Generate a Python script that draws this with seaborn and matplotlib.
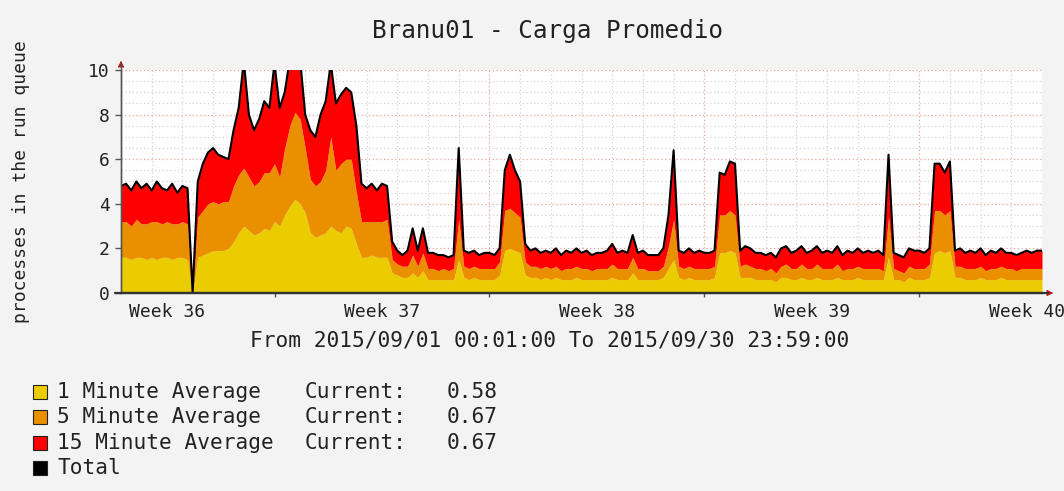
import numpy as np
import matplotlib
matplotlib.use("Agg")
import matplotlib.pyplot as plt
from matplotlib.patches import Rectangle
from matplotlib.lines import Line2D
import seaborn as sns

# Carga promedio - amostras a cada 4 horas (6 por dia), 2015/09/01 .. 2015/09/30
SAMPLE_HOURS = 4

avg_1min = [
    1.6, 1.6, 1.5, 1.6, 1.6, 1.5,
    1.6, 1.5, 1.6, 1.6, 1.5, 1.6,
    1.6, 1.5, 0.0, 1.6, 1.7, 1.8,
    1.9, 1.9, 1.9, 2.0, 2.3, 2.7,
    3.0, 2.8, 2.6, 2.7, 2.9, 2.8,
    3.2, 3.0, 3.5, 3.9, 4.2, 4.0,
    3.6, 2.7, 2.5, 2.6, 2.7, 3.0,
    2.8, 2.7, 3.0, 2.9, 2.2, 1.6,
    1.6, 1.7, 1.6, 1.6, 1.6, 0.9,
    0.8, 0.7, 0.7, 0.9, 0.7, 1.0,
    0.6, 0.6, 0.6, 0.6, 0.6, 0.6,
    1.5, 0.7, 0.6, 0.7, 0.6, 0.6,
    0.6, 0.6, 0.8, 1.9, 2.0, 1.9,
    1.8, 0.8, 0.7, 0.7, 0.6, 0.7,
    0.6, 0.7, 0.6, 0.6, 0.6, 0.7,
    0.6, 0.6, 0.6, 0.6, 0.6, 0.6,
    0.7, 0.6, 0.6, 0.6, 0.9, 0.6,
    0.6, 0.6, 0.6, 0.6, 0.7, 1.1,
    1.5, 0.7, 0.6, 0.7, 0.6, 0.6,
    0.6, 0.6, 0.7, 1.8, 1.8, 1.9,
    1.8, 0.7, 0.7, 0.7, 0.6, 0.6,
    0.6, 0.6, 0.5, 0.7, 0.7, 0.6,
    0.6, 0.7, 0.6, 0.6, 0.7, 0.6,
    0.6, 0.6, 0.7, 0.6, 0.6, 0.6,
    0.7, 0.6, 0.6, 0.6, 0.6, 0.6,
    1.6, 0.6, 0.6, 0.5, 0.7, 0.6,
    0.6, 0.6, 0.7, 1.8, 1.9, 1.8,
    1.9, 0.7, 0.7, 0.6, 0.6, 0.6,
    0.7, 0.6, 0.6, 0.6, 0.7, 0.6,
    0.6, 0.6, 0.6, 0.6, 0.6, 0.6, 0.6,
]

avg_5min = [
    1.6, 1.6, 1.5, 1.7, 1.5, 1.6,
    1.6, 1.7, 1.5, 1.6, 1.6, 1.5,
    1.6, 1.6, 0.0, 1.8, 2.0, 2.2,
    2.2, 2.1, 2.2, 2.1, 2.5, 2.6,
    2.6, 2.4, 2.2, 2.3, 2.5, 2.6,
    2.6, 2.2, 3.0, 3.6, 3.9, 3.8,
    2.9, 2.4, 2.3, 2.4, 2.8, 4.0,
    2.7, 3.1, 3.0, 3.1, 2.3, 1.6,
    1.6, 1.5, 1.6, 1.6, 1.7, 0.6,
    0.5, 0.5, 0.5, 0.8, 0.5, 0.8,
    0.5, 0.5, 0.4, 0.5, 0.4, 0.5,
    1.8, 0.5, 0.5, 0.5, 0.5, 0.5,
    0.5, 0.5, 0.6, 1.8, 1.8, 1.7,
    1.6, 0.6, 0.5, 0.5, 0.5, 0.5,
    0.5, 0.5, 0.4, 0.5, 0.5, 0.5,
    0.5, 0.5, 0.4, 0.5, 0.5, 0.5,
    0.6, 0.5, 0.5, 0.5, 0.7, 0.5,
    0.5, 0.4, 0.4, 0.4, 0.5, 1.0,
    1.8, 0.5, 0.5, 0.5, 0.5, 0.5,
    0.5, 0.5, 0.5, 1.7, 1.7, 1.8,
    1.7, 0.5, 0.6, 0.5, 0.5, 0.5,
    0.4, 0.5, 0.4, 0.5, 0.6, 0.5,
    0.5, 0.6, 0.5, 0.5, 0.6, 0.5,
    0.5, 0.5, 0.6, 0.4, 0.5, 0.5,
    0.5, 0.5, 0.5, 0.5, 0.5, 0.4,
    1.8, 0.5, 0.4, 0.4, 0.5, 0.5,
    0.5, 0.5, 0.6, 1.9, 1.8, 1.7,
    1.8, 0.5, 0.5, 0.5, 0.5, 0.5,
    0.5, 0.4, 0.5, 0.5, 0.5, 0.5,
    0.5, 0.4, 0.5, 0.5, 0.5, 0.5, 0.5,
]

avg_15min = [
    1.6, 1.7, 1.6, 1.7, 1.6, 1.8,
    1.4, 1.8, 1.6, 1.4, 1.8, 1.4,
    1.6, 1.6, 0.0, 1.6, 2.1, 2.3,
    2.4, 2.2, 2.0, 1.9, 2.5, 3.0,
    4.8, 2.8, 2.5, 2.8, 3.2, 2.9,
    4.5, 3.1, 2.5, 3.0, 2.4, 2.7,
    1.5, 2.2, 2.2, 3.0, 3.1, 3.3,
    3.0, 3.1, 3.2, 3.0, 3.0, 1.7,
    1.5, 1.7, 1.4, 1.7, 1.5, 0.8,
    0.6, 0.5, 0.7, 1.2, 0.7, 1.1,
    0.7, 0.7, 0.7, 0.6, 0.6, 0.6,
    3.2, 0.7, 0.7, 0.7, 0.6, 0.7,
    0.7, 0.6, 0.6, 1.8, 2.4, 1.9,
    1.6, 0.8, 0.7, 0.8, 0.7, 0.7,
    0.7, 0.8, 0.7, 0.8, 0.7, 0.8,
    0.7, 0.8, 0.7, 0.7, 0.7, 0.8,
    0.9, 0.7, 0.8, 0.7, 1.0, 0.7,
    0.8, 0.7, 0.7, 0.7, 0.8, 1.4,
    3.1, 0.7, 0.7, 0.8, 0.7, 0.8,
    0.7, 0.7, 0.7, 1.9, 1.8, 2.2,
    2.3, 0.7, 0.8, 0.8, 0.7, 0.7,
    0.7, 0.7, 0.7, 0.8, 0.8, 0.7,
    0.8, 0.8, 0.7, 0.8, 0.8, 0.7,
    0.8, 0.7, 0.8, 0.7, 0.8, 0.7,
    0.8, 0.7, 0.8, 0.7, 0.8, 0.7,
    2.8, 0.7, 0.7, 0.7, 0.8, 0.8,
    0.8, 0.7, 0.7, 2.1, 2.1, 1.9,
    2.2, 0.7, 0.8, 0.7, 0.8, 0.7,
    0.8, 0.7, 0.8, 0.7, 0.8, 0.7,
    0.7, 0.7, 0.7, 0.8, 0.7, 0.8, 0.8,
]

series_names = ["1 Minute Average", "5 Minute Average", "15 Minute Average"]
series_colors = ["#EACC00", "#EA8F00", "#FF0000"]
current_values = ["0.58", "0.67", "0.67"]

week_labels = ["Week 36", "Week 37", "Week 38", "Week 39", "Week 40"]
week_label_days = [1.5, 8.5, 15.5, 22.5, 29.5]
week_start_days = [5, 12, 19, 26]

title = "Branu01 - Carga Promedio"
ylabel = "processes in the run queue"
period = "From 2015/09/01 00:01:00 To 2015/09/30 23:59:00"

sns.set_theme(style="white")
plt.rcParams["font.family"] = ["DejaVu Sans Mono"]

W, H = 1064, 491
fig = plt.figure(figsize=(W / 100, H / 100), dpi=100, facecolor="#F3F3F3")
ax = fig.add_axes([121 / W, 1 - 293 / H, 921 / W, 223 / H])
ax.set_facecolor("white")

days = np.arange(len(avg_1min)) * SAMPLE_HOURS / 24.0
total = np.array(avg_1min) + np.array(avg_5min) + np.array(avg_15min)

# grade
for d in range(1, 30):
    if d in week_start_days:
        ax.axvline(d, color="#F0A0A0", lw=0.9, ls=(0, (1, 2)), zorder=0)
    else:
        ax.axvline(d, color="#D4D4D4", lw=0.9, ls=(0, (1, 2)), zorder=0)
for h in np.arange(0.5, 10.01, 0.5):
    if h % 2 == 0:
        ax.axhline(h, color="#F0A0A0", lw=0.9, ls=(0, (1, 2)), zorder=0)
    else:
        ax.axhline(h, color="#D4D4D4", lw=0.9, ls=(0, (1, 2)), zorder=0)

ax.stackplot(days, avg_1min, avg_5min, avg_15min, colors=series_colors,
             linewidth=0, zorder=2)
sns.lineplot(x=days, y=total, color="black", lw=1.5, ax=ax, zorder=3)

ax.set_xlim(0, 30)
ax.set_ylim(0, 10)
ax.set_yticks([0, 2, 4, 6, 8, 10])
ax.set_xticks(week_label_days)
ax.set_xticklabels(week_labels)
ax.set_xticks(week_start_days, minor=True)
ax.tick_params(axis="x", which="major", length=0, pad=7, labelsize=13,
               colors="#222222")
ax.tick_params(axis="x", which="minor", length=3, width=1, color="#555555",
               direction="out", bottom=True)
ax.tick_params(axis="y", length=4, width=1, color="#555555", pad=4,
               labelsize=13, colors="#222222", left=True)
ax.set_xlabel("")
ax.set_ylabel("")

for side in ["top", "right"]:
    ax.spines[side].set_visible(False)
ax.spines["left"].set_color("#555555")
ax.spines["left"].set_linewidth(1.0)
ax.spines["bottom"].set_color("#333333")
ax.spines["bottom"].set_linewidth(1.6)
ax.spines["left"].set_zorder(4)
ax.spines["bottom"].set_zorder(4)

# extensões dos eixos com setas vermelhas
fig.add_artist(Line2D([121 / W, 121 / W], [1 - 293 / H, 1 - 64 / H],
                      color="#555555", lw=1.0))
fig.add_artist(Line2D([115 / W, 1048 / W], [1 - 293 / H, 1 - 293 / H],
                      color="#333333", lw=1.6))
ax.annotate("", xy=(121 / W, 1 - 58 / H), xytext=(121 / W, 1 - 66 / H),
            xycoords="figure fraction",
            arrowprops=dict(arrowstyle="-|>", color="#B01818", lw=0.5,
                            mutation_scale=10), annotation_clip=False)
ax.annotate("", xy=(1056 / W, 1 - 293 / H), xytext=(1046 / W, 1 - 293 / H),
            xycoords="figure fraction",
            arrowprops=dict(arrowstyle="-|>", color="#B01818", lw=0.5,
                            mutation_scale=10), annotation_clip=False)

fig.text(547 / W, 1 - 31 / H, title, ha="center", va="center", fontsize=17.5,
         color="#222222")
fig.text(21 / W, 1 - 182 / H, ylabel, ha="center", va="center", rotation=90,
         fontsize=13, color="#222222")
fig.text(550 / W, 1 - 341 / H, period, ha="center", va="center", fontsize=15.2,
         color="#222222")

# legenda estilo rrdtool
row_y = [392, 417, 443, 468]
for i, name in enumerate(series_names + ["Total"]):
    color = series_colors[i] if i < 3 else "black"
    y = row_y[i]
    fig.add_artist(Rectangle((33 / W, 1 - (y + 7) / H), 14 / W, 14 / H,
                             transform=fig.transFigure, facecolor=color,
                             edgecolor="#222222", lw=0.8))
    fig.text(57 / W, 1 - y / H, name, ha="left", va="center", fontsize=15.2,
             color="#222222")
    if i < 3:
        fig.text(305 / W, 1 - y / H, "Current:", ha="left", va="center",
                 fontsize=15.2, color="#222222")
        fig.text(447 / W, 1 - y / H, current_values[i], ha="left", va="center",
                 fontsize=15.2, color="#222222")

fig.savefig("out.png", dpi=100, facecolor=fig.get_facecolor())
plt.close(fig)
